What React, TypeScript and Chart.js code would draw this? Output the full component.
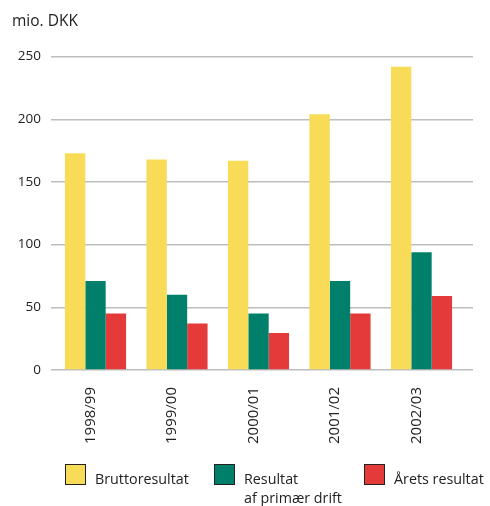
import React, { useEffect, useRef } from "react";
import { Chart, registerables } from "chart.js";

Chart.register(...registerables);

const categories = ["1998/99", "1999/00", "2000/01", "2001/02", "2002/03"];
const bruttoresultat = [173, 168, 167, 204, 242];
const primaerDrift = [71, 60, 45, 71, 94];
const aretsResultat = [45, 37, 29.5, 45, 59];
const yTicks = [0, 50, 100, 150, 200, 250];

const seriesLabels = ["Bruttoresultat", "Resultat\naf primær drift", "Årets resultat"];
const seriesColors = ["#F8DC57", "#00806A", "#E53A3A"];

const FONT = "'Open Sans', 'DejaVu Sans', sans-serif";

const legendPlugin = {
  id: "customLegend",
  afterDraw(chart: any) {
    const ctx = chart.ctx;
    const xs = [65, 214, 364];
    const boxTop = 464.5;
    ctx.save();
    chart.data.datasets.forEach((ds: any, i: number) => {
      const x = xs[i];
      ctx.fillStyle = ds.backgroundColor;
      ctx.fillRect(x + 0.5, boxTop, 20, 20);
      ctx.strokeStyle = "#222";
      ctx.lineWidth = 1;
      ctx.strokeRect(x + 0.5, boxTop, 20, 20);
      ctx.fillStyle = "#222";
      ctx.font = `14.3px ${FONT}`;
      ctx.textBaseline = "alphabetic";
      ctx.textAlign = "left";
      String(ds.label)
        .split("\n")
        .forEach((line: string, j: number) => {
          ctx.fillText(line, x + 30, 484 + j * 19);
        });
    });
    ctx.restore();
  },
};

export default function App() {
  const ref = useRef<HTMLCanvasElement | null>(null);

  useEffect(() => {
    document.body.style.margin = "0";
    const canvas = ref.current;
    if (!canvas) return;
    const series = [bruttoresultat, primaerDrift, aretsResultat];
    const chart = new Chart(canvas, {
      type: "bar",
      data: {
        datasets: series.map((vals, s) => ({
          label: seriesLabels[s],
          data: vals.map((v, i) => ({ x: i, y: v })),
          backgroundColor: seriesColors[s],
          borderWidth: 0,
          categoryPercentage: 0.75,
          barPercentage: 1.0,
        })),
      },
      options: {
        responsive: false,
        animation: false,
        layout: { padding: { left: 12, right: 17, bottom: 60, top: 0 } },
        plugins: {
          legend: { display: false },
          tooltip: { enabled: false },
          title: {
            display: true,
            text: "mio. DKK",
            align: "start",
            color: "#222",
            font: { family: FONT, size: 15.5, weight: "normal" },
            padding: { top: 12, bottom: 26 },
          },
        },
        scales: {
          x: {
            type: "linear",
            offset: false,
            min: -0.546,
            max: 4.632,
            grid: { display: false, offset: false },
            border: { display: false },
            afterBuildTicks: (scale: any) => {
              scale.ticks = categories.map((_, i) => ({ value: i }));
            },
            afterFit: (scale: any) => {
              scale.height = 76;
            },
            ticks: {
              autoSkip: false,
              minRotation: 90,
              maxRotation: 90,
              padding: 9,
              labelOffset: -5,
              color: "#222",
              font: { family: FONT, size: 15 },
              callback: (v: any) => categories[Math.round(Number(v))] ?? "",
            },
          },
          y: {
            min: 0,
            max: 250,
            afterBuildTicks: (scale: any) => {
              scale.ticks = yTicks.map((v) => ({ value: v }));
            },
            afterFit: (scale: any) => {
              scale.width = 39;
            },
            grid: { color: "#bdbdbd", lineWidth: 1.5, drawTicks: false },
            border: { display: false },
            ticks: {
              padding: 10,
              color: "#222",
              font: { family: FONT, size: 13.5 },
            },
          },
        },
      },
      plugins: [legendPlugin],
    } as any);
    return () => chart.destroy();
  }, []);

  return <canvas ref={ref} width={490} height={506} style={{ display: "block" }} />;
}
